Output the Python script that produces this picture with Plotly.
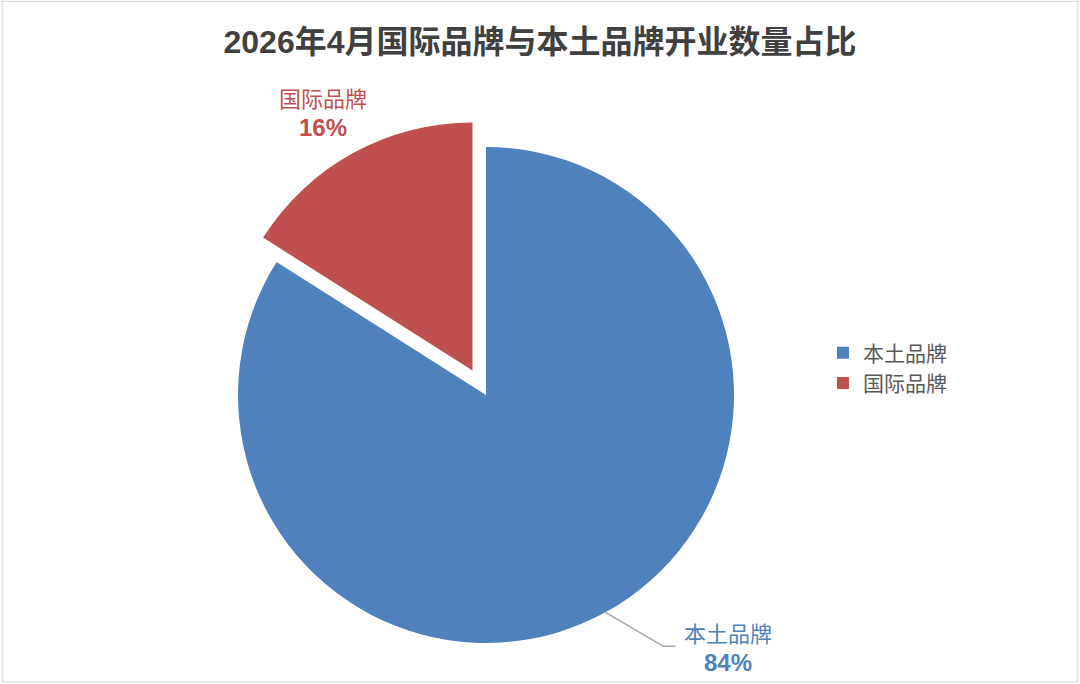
import math
import plotly.graph_objects as go

# ---- data ----
labels = ["本土品牌", "国际品牌"]
values = [84, 16]
colors = ["#4F81BD", "#C0504D"]
pulls = [0, 0.113]
title_text = "2026年4月国际品牌与本土品牌开业数量占比"

# ---- layout geometry (pixels) ----
W, H = 1080, 684
cx_px, cy_px = 486, 395
r_px = 248
maxpull = max(pulls)
box = 2 * r_px * (1 + maxpull)
dom_x = [(cx_px - box / 2) / W, (cx_px + box / 2) / W]
dom_y = [1 - (cy_px + box / 2) / H, 1 - (cy_px - box / 2) / H]

fig = go.Figure(go.Pie(
    labels=labels, values=values, sort=False, direction="clockwise", rotation=0,
    marker=dict(colors=colors, line=dict(width=0)), pull=pulls,
    textinfo="none", hoverinfo="label+percent",
    domain=dict(x=dom_x, y=dom_y),
))

total = sum(values)
font_family = "Liberation Sans, Noto Sans CJK SC, sans-serif"


def px2paper(x, y):
    return x / W, 1 - y / H


# slice mid-angles (clockwise from 12 o'clock)
cum = 0
mids = []
for v in values:
    mids.append((cum + v / 2) / total * 360)
    cum += v

annotations = []
shapes = []
for i, (lab, v) in enumerate(zip(labels, values)):
    ang = math.radians(mids[i])
    ux, uy = math.sin(ang), -math.cos(ang)
    pct = round(v / total * 100)
    txt = f"{lab}<br><b><span style='font-size:24px'>{pct}%</span></b>"
    if pulls[i] > 0:
        d = r_px * 1.31
        lx, ly = cx_px + ux * d - 6, cy_px + uy * d + 4
    else:
        ex, ey = cx_px + ux * r_px, cy_px + uy * r_px
        elx, ely = ex + 58, ey + 34
        endx = elx + 12
        p = [px2paper(ex, ey), px2paper(elx, ely), px2paper(endx, ely)]
        shapes.append(dict(type="path", xref="paper", yref="paper",
                           path=f"M {p[0][0]},{p[0][1]} L {p[1][0]},{p[1][1]} L {p[2][0]},{p[2][1]}",
                           line=dict(color="#A6A6A6", width=1.5)))
        lx, ly = endx + 53, ely + 3
    axp, ayp = px2paper(lx, ly)
    annotations.append(dict(x=axp, y=ayp, xref="paper", yref="paper", text=txt,
                            showarrow=False, xanchor="center", yanchor="middle",
                            align="center",
                            font=dict(size=22, color=colors[i], family=font_family)))

# outer frame
shapes.append(dict(type="rect", xref="paper", yref="paper", x0=0.002, y0=0.003, x1=0.998, y1=0.998,
                   line=dict(color="#D0D0D0", width=1)))

fig.update_layout(
    width=W, height=H,
    margin=dict(l=0, r=0, t=0, b=0),
    paper_bgcolor="white", plot_bgcolor="white",
    title=dict(text=f"<b>{title_text}</b>", x=0.5, xanchor="center",
               y=1 - 42 / H, yanchor="middle", yref="paper",
               font=dict(size=32, color="#404040", family=font_family)),
    legend=dict(x=0.762, y=1 - 368 / H, xanchor="left", yanchor="middle",
                font=dict(size=21, color="#595959", family=font_family),
                bgcolor="rgba(0,0,0,0)"),
    annotations=annotations,
    shapes=shapes,
)

fig.write_html("out.html", config={"displayModeBar": False},
               post_script="document.body.style.margin='0';document.body.style.overflow='hidden';")
